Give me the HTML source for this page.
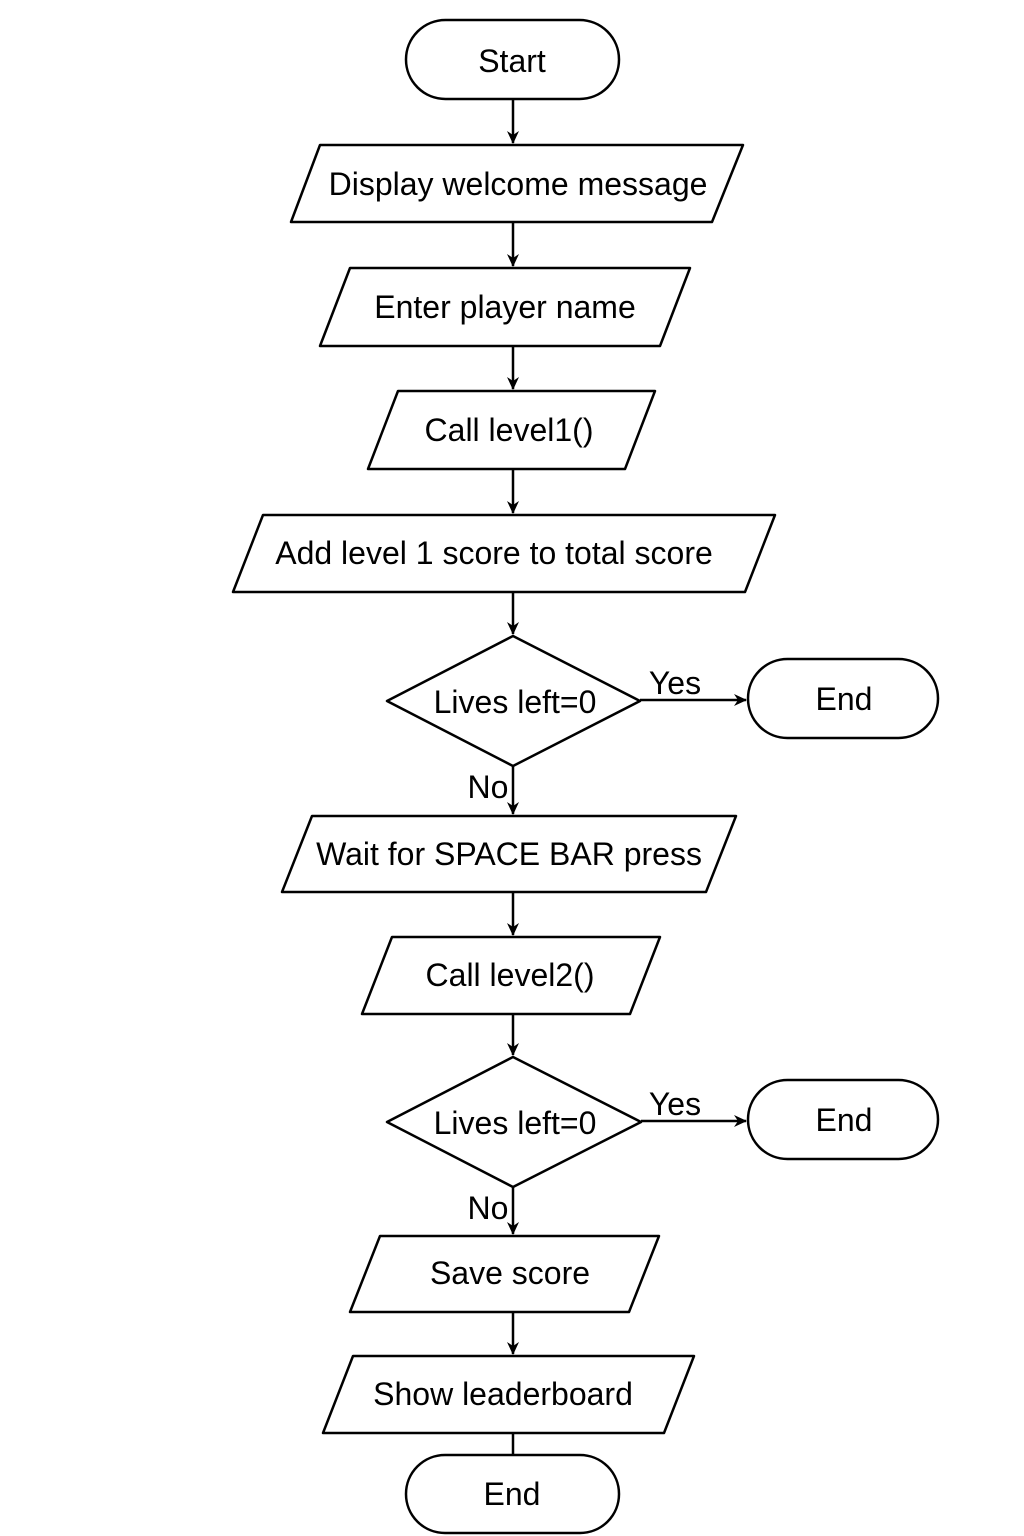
<!DOCTYPE html>
<html><head><meta charset="utf-8"><style>
html,body{margin:0;padding:0;background:#fff;}
svg{display:block;}
text{font-family:"Liberation Sans",sans-serif;font-size:32px;fill:#000;text-anchor:middle;dominant-baseline:central;}
.s{fill:#fff;stroke:#000;stroke-width:2.5;stroke-linejoin:round;}
.l{stroke:#000;stroke-width:2.5;fill:none;}
</style></head><body>
<svg width="1024" height="1536" viewBox="0 0 1024 1536">
<defs><marker id="a" markerWidth="14" markerHeight="14" refX="12" refY="6" orient="auto" markerUnits="userSpaceOnUse"><path d="M0,0 L13,6 L0,12 L4,6 Z" fill="#000"/></marker></defs>

<rect class="s" x="406" y="20" width="213" height="79" rx="39.5"/>
<text x="512" y="61">Start</text>
<line class="l" x1="513" y1="99" x2="513" y2="143" marker-end="url(#a)"/>

<polygon class="s" points="320,145 743,145 712,222 291,222"/>
<text x="518" y="184">Display welcome message</text>
<line class="l" x1="513" y1="222" x2="513" y2="266" marker-end="url(#a)"/>

<polygon class="s" points="350,268 690,268 660,346 320,346"/>
<text x="505" y="307">Enter player name</text>
<line class="l" x1="513" y1="346" x2="513" y2="389" marker-end="url(#a)"/>

<polygon class="s" points="398,391 655,391 625,469 368,469"/>
<text x="509" y="430">Call level1()</text>
<line class="l" x1="513" y1="469" x2="513" y2="513" marker-end="url(#a)"/>

<polygon class="s" points="263,515 775,515 745,592 233,592"/>
<text x="494" y="553">Add level 1 score to total score</text>
<line class="l" x1="513" y1="592" x2="513" y2="634" marker-end="url(#a)"/>

<polygon class="s" points="513,636 640,701 513,766 387,701"/>
<text x="515" y="702">Lives left=0</text>
<line class="l" x1="640" y1="700" x2="746" y2="700" marker-end="url(#a)"/>
<text x="675" y="683">Yes</text>
<rect class="s" x="748" y="659" width="190" height="79" rx="39.5"/>
<text x="844" y="699">End</text>
<line class="l" x1="513" y1="766" x2="513" y2="814" marker-end="url(#a)"/>
<text x="488" y="787">No</text>

<polygon class="s" points="312,816 736,816 706,892 282,892"/>
<text x="509" y="854">Wait for SPACE BAR press</text>
<line class="l" x1="513" y1="892" x2="513" y2="935" marker-end="url(#a)"/>

<polygon class="s" points="392,937 660,937 630,1014 362,1014"/>
<text x="510" y="975">Call level2()</text>
<line class="l" x1="513" y1="1014" x2="513" y2="1055" marker-end="url(#a)"/>

<polygon class="s" points="513,1057 641,1122 513,1187 387,1122"/>
<text x="515" y="1123">Lives left=0</text>
<line class="l" x1="641" y1="1121" x2="746" y2="1121" marker-end="url(#a)"/>
<text x="675" y="1104">Yes</text>
<rect class="s" x="748" y="1080" width="190" height="79" rx="39.5"/>
<text x="844" y="1120">End</text>
<line class="l" x1="513" y1="1187" x2="513" y2="1234" marker-end="url(#a)"/>
<text x="488" y="1208">No</text>

<polygon class="s" points="380,1236 659,1236 629,1312 350,1312"/>
<text x="510" y="1273">Save score</text>
<line class="l" x1="513" y1="1312" x2="513" y2="1354" marker-end="url(#a)"/>

<polygon class="s" points="353,1356 694,1356 664,1433 323,1433"/>
<text x="503" y="1394">Show leaderboard</text>
<line class="l" x1="513" y1="1433" x2="513" y2="1455"/>

<rect class="s" x="406" y="1455" width="213" height="78" rx="39"/>
<text x="512" y="1494">End</text>
</svg>
</body></html>
